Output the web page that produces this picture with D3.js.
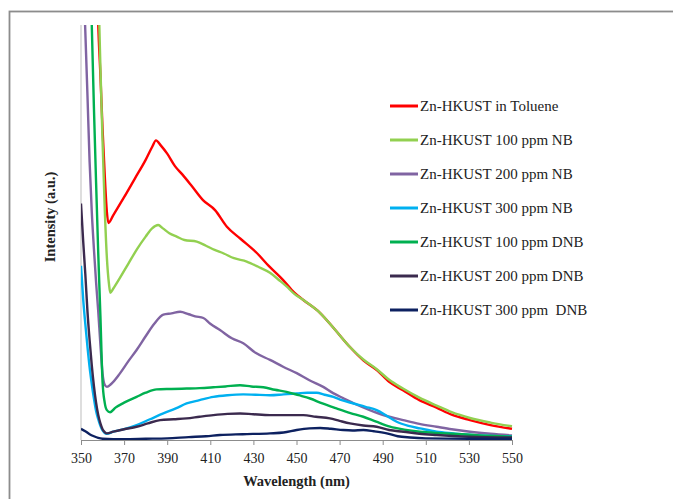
<!DOCTYPE html>
<html>
<head>
<meta charset="utf-8">
<script src="https://cdn.jsdelivr.net/npm/d3@7"></script>
<style>
  html, body { margin: 0; padding: 0; background: #fff; }
</style>
</head>
<body>
<div id="myPlot"></div>
<script>
// Set Dimensions
const xSize = 673;
const ySize = 499;
const plotLeft = 81, plotRight = 512, plotTop = 25, plotBottom = 440;

// Data: [wavelength (nm), intensity (a.u.)]
let toluene = [
  [350,200],[356,140],[357,120],[358,100],[359,88],[360,75],[361,64],[362,55],[362.7,52.3],
  [365,54.2],[370,58.5],[375,63],[380,67.5],[383,70.6],[384.8,72.2],
  [387,71],[390,69],[393.6,66],[397,64],[401.4,61.2],[406.6,57.8],[412.2,55.4],[417.7,51.4],
  [424,48.5],[431.7,45],[437,42],[443.7,38.6],[449,35.5],[453,33.8],[461,30.6],[468,26.5],
  [474.8,22.4],[481,19.2],[487.4,16.8],[493,14],[499.4,12],[507,9.6],[515,7.8],[522,6.1],
  [530.5,4.8],[540,3.6],[550,2.7]
];

let nb100 = [
  [350,200],[357,130],[358,110],[359,90],[360,72],[361,56],[362,44],[363,37.5],[363.6,35.5],
  [365,36.5],[368,39],[372,42.5],[376,46],[380,49],[383,51],[385.8,51.8],[388,51],[391,49.8],
  [394.4,49],[398,48.2],[403.7,47.8],[408,46.8],[412,45.8],[416,45],[421,43.8],[426.9,43],
  [432,41.8],[437.7,40.3],[442,38.5],[445.4,37],[449,35.2],[453,33.8],[461,30.6],[468,26.5],
  [474.8,22.4],[481,19.4],[487.4,17],[493,14.5],[499.4,12.4],[507,10.2],[515,8.3],[522,6.7],
  [530.5,5.3],[540,4.2],[550,3.3]
];

let nb200 = [
  [350,135],[351,114],[352,98.5],[353,83],[354,67],[355,55],[356,46],[357,38],[358,31],
  [359,23],[360,16],[361,13.3],[362,12.8],[364,13.5],[368,16],[372,19],[375.8,21.7],[380,25],
  [384,28],[388.2,30.2],[392,30.5],[396,30.9],[400,30.3],[403,29.8],[406.8,29.4],[410,28],
  [414.5,26.5],[420,24.5],[425.3,23.3],[431,21],[437.7,19.3],[444,17.6],[450.1,16.1],[456,14.4],
  [462.4,12.8],[467,11.3],[471.6,10.1],[478,8.5],[484,7.2],[491,5.9],[499.5,4.8],[507,3.9],
  [515,3.2],[522,2.6],[530.5,2],[540,1.5],[550,1.1]
];

let nb300 = [
  [350,42],[351,34],[352,28],[353,22.5],[354,17.5],[355,13.5],[356,10],[357,7],[358,5],
  [359,3.4],[360,2.3],[361,1.7],[362,1.5],[365,2],[370,2.6],[375.8,3.6],[382,5],[388.2,6.4],
  [394,7.6],[399,8.8],[405,9.6],[411.4,10.4],[418,10.8],[425.3,11],[431,10.9],[437.7,10.8],
  [444,11],[450.1,11.2],[455,11.4],[459.4,11.4],[463,10.9],[467.1,10.4],[471,9.6],[476.4,8.8],
  [482,8],[487.2,7.2],[492,5.8],[496.5,4.4],[502,3.4],[507.3,2.8],[515,2],[522.7,1.6],
  [535,1.1],[550,0.9]
];

let dnb100 = [
  [350,200],[353,140],[354,120],[355,100],[356,80],[357,62],[358,45],[359,30],[360,14],
  [361,9],[362,7.2],[363.5,6.7],[366,7.8],[370,9],[375.8,10.4],[380,11.4],[385.1,12.2],
  [392,12.3],[399,12.4],[405,12.5],[411.4,12.7],[417,12.9],[423.8,13.2],[429,12.9],[434.6,12.7],
  [440,12.1],[445.4,11.6],[451,10.8],[456.3,10],[462,8.8],[468.6,7.6],[475,6.5],[481,5.6],
  [487,4.4],[493.4,3.2],[500,2.5],[507.3,2],[515,1.7],[522.7,1.5],[535,1.1],[550,0.8]
];

let dnb200 = [
  [350,57],[351,48],[352,40],[353,31],[354,24],[355,18],[356,13],[357,9],[358,6],[359,4],
  [360,2.6],[361,1.9],[362,1.6],[365,2],[370,2.6],[375.8,3.2],[381,4],[386.7,4.8],[393,5],
  [399,5.2],[405,5.6],[411.4,6],[418,6.3],[423.8,6.4],[430,6.2],[437.7,6],[445,6],[453.2,6],
  [459,5.6],[465.5,5.2],[470,4.6],[474.8,4],[481,3.5],[487.2,3.2],[493,2.4],[499.6,2],
  [507,1.5],[515,1.2],[530,0.8],[550,0.6]
];

let dnb300 = [
  [350,2.7],[352,2.1],[354,1.4],[356,0.9],[358,0.5],[360,0.3],[365,0.2],[370,0.2],[380,0.3],
  [390,0.4],[400,0.7],[408,0.9],[414.5,1.2],[425,1.4],[437.7,1.6],[444,1.8],[450.1,2.4],
  [456,2.8],[461,2.9],[466,2.7],[471.7,2.4],[476,2.3],[481,2.4],[486,2.1],[491.9,1.6],
  [497,0.9],[502.7,0.6],[510,0.4],[530,0.3],[550,0.3]
];

let seriesNames = [
  "Zn-HKUST in Toluene",
  "Zn-HKUST 100 ppm NB",
  "Zn-HKUST 200 ppm NB",
  "Zn-HKUST 300 ppm NB",
  "Zn-HKUST 100 ppm DNB",
  "Zn-HKUST 200 ppm DNB",
  "Zn-HKUST 300 ppm  DNB"
];
let seriesData = [toluene, nb100, nb200, nb300, dnb100, dnb200, dnb300];
let colors = ["#ff0000", "#92d050", "#8064a2", "#00b0f0", "#00b050", "#3b2a4e", "#0d2160"];
let xTicks = [350, 370, 390, 410, 430, 450, 470, 490, 510, 530, 550];

// Append SVG Object to the Page
const svg = d3.select("#myPlot")
  .append("svg")
  .attr("width", xSize)
  .attr("height", ySize)
  .style("display", "block");

svg.append("rect")
  .attr("width", xSize)
  .attr("height", ySize)
  .style("fill", "#fff");

// outer chart frame (runs off the right and bottom)
svg.append("rect")
  .attr("x", 9.5)
  .attr("y", 11.5)
  .attr("width", 700)
  .attr("height", 520)
  .style("fill", "none")
  .style("stroke", "#8c8c8c")
  .style("stroke-width", 1.8);

// Scales
const x = d3.scaleLinear()
  .domain([350, 550])
  .range([plotLeft, plotRight]);

const y = d3.scaleLinear()
  .domain([0, 100])
  .range([plotBottom, plotTop]);

svg.append("clipPath")
  .attr("id", "plotClip")
  .append("rect")
  .attr("x", plotLeft)
  .attr("y", plotTop)
  .attr("width", plotRight - plotLeft + 2)
  .attr("height", plotBottom - plotTop);

// Y axis line (no ticks)
svg.append("line")
  .attr("x1", plotLeft).attr("x2", plotLeft)
  .attr("y1", plotTop).attr("y2", plotBottom)
  .style("stroke", "#c8c8c8")
  .style("stroke-width", 1.2);

// X Axis
const xAxis = svg.append("g")
  .attr("class", "x-axis")
  .attr("transform", `translate(0, ${plotBottom})`)
  .call(d3.axisBottom(x).tickValues(xTicks).tickSize(5).tickPadding(8).tickSizeOuter(0));

xAxis.select(".domain").style("stroke", "#8c8c8c");
xAxis.selectAll(".tick line").style("stroke", "#8c8c8c");
xAxis.selectAll(".tick text")
  .style("font-family", "'Liberation Serif', 'Times New Roman', serif")
  .style("font-size", "14px")
  .style("fill", "#222");

svg.append("text") // x-axis label
  .attr("x", (plotLeft + plotRight) / 2)
  .attr("y", 486)
  .style("font-family", "'Liberation Serif', 'Times New Roman', serif")
  .style("font-weight", "bold")
  .style("font-size", "14.5px")
  .style("text-anchor", "middle")
  .style("fill", "#222")
  .text("Wavelength (nm)");

svg.append("text") // y-axis label
  .attr("transform", "translate(55, 217) rotate(-90)")
  .style("font-family", "'Liberation Serif', 'Times New Roman', serif")
  .style("font-weight", "bold")
  .style("font-size", "14.5px")
  .style("text-anchor", "middle")
  .style("fill", "#222")
  .text("Intensity (a.u.)");

// Lines
const line = d3.line()
  .x(d => x(d[0]))
  .y(d => y(d[1]))
  .curve(d3.curveMonotoneX);

svg.append("g")
  .attr("clip-path", "url(#plotClip)")
  .selectAll(".spectrum")
  .data(seriesData)
  .enter()
  .append("path")
  .attr("class", "spectrum")
  .attr("d", d => line(d))
  .style("fill", "none")
  .style("stroke", (d, i) => colors[i])
  .style("stroke-width", 2.4)
  .style("stroke-linejoin", "round");

// Legend
const legend = svg.append("g")
  .attr("class", "legend")
  .attr("transform", "translate(390, 106)");

const rows = legend.selectAll(".row")
  .data(seriesNames)
  .enter()
  .append("g")
  .attr("transform", (d, i) => `translate(0, ${i * 34})`);

rows.append("line")
  .attr("x1", 0).attr("x2", 28)
  .attr("y1", 0).attr("y2", 0)
  .style("stroke", (d, i) => colors[i])
  .style("stroke-width", 3);

rows.append("text")
  .attr("x", 30)
  .attr("y", 0)
  .attr("dy", "0.35em")
  .style("font-family", "'Liberation Serif', 'Times New Roman', serif")
  .style("font-size", "15px")
  .style("fill", "#222")
  .style("white-space", "pre")
  .text(d => d);
</script>
</body>
</html>
